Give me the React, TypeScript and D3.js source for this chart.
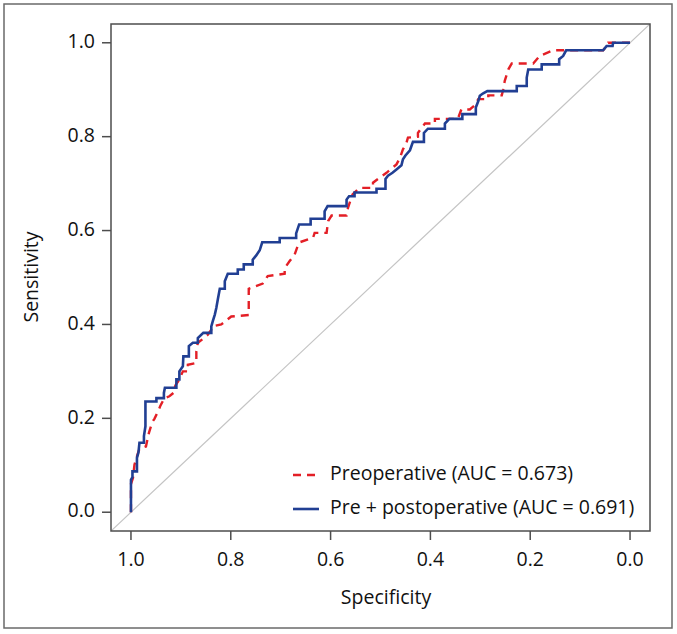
import React from "react";
import * as d3 from "d3";

const xTicks = [1.0, 0.8, 0.6, 0.4, 0.2, 0.0];
const yTicks = [0.0, 0.2, 0.4, 0.6, 0.8, 1.0];
const tickLabels = ["1.0", "0.8", "0.6", "0.4", "0.2", "0.0"];
const yTickLabels = ["0.0", "0.2", "0.4", "0.6", "0.8", "1.0"];

const legendLabels = ["Preoperative (AUC = 0.673)", "Pre + postoperative (AUC = 0.691)"];

// Preoperative curve (specificity, sensitivity)
const preSpec = [1.0, 1.0, 0.996, 0.993, 0.986, 0.983, 0.97, 0.964, 0.96, 0.956, 0.953, 0.944, 0.941, 0.933, 0.923, 0.915, 0.911, 0.903, 0.896, 0.886, 0.886, 0.869, 0.869, 0.866, 0.856, 0.846, 0.839, 0.836, 0.819, 0.799, 0.764, 0.764, 0.736, 0.726, 0.692, 0.692, 0.682, 0.672, 0.665, 0.662, 0.635, 0.632, 0.608, 0.605, 0.598, 0.568, 0.565, 0.556, 0.542, 0.515, 0.515, 0.501, 0.488, 0.468, 0.461, 0.455, 0.448, 0.445, 0.425, 0.425, 0.411, 0.391, 0.391, 0.345, 0.338, 0.321, 0.311, 0.304, 0.284, 0.284, 0.257, 0.254, 0.251, 0.244, 0.237, 0.194, 0.181, 0.154, 0.054, 0.047, 0.044, 0.0];
const preSens = [0.0, 0.06, 0.073, 0.101, 0.126, 0.135, 0.14, 0.169, 0.183, 0.194, 0.199, 0.219, 0.227, 0.243, 0.247, 0.254, 0.27, 0.283, 0.3, 0.3, 0.314, 0.318, 0.343, 0.361, 0.369, 0.378, 0.389, 0.396, 0.4, 0.417, 0.42, 0.476, 0.487, 0.503, 0.508, 0.52, 0.535, 0.549, 0.57, 0.575, 0.585, 0.595, 0.595, 0.62, 0.632, 0.632, 0.649, 0.677, 0.691, 0.691, 0.702, 0.713, 0.723, 0.741, 0.755, 0.773, 0.787, 0.798, 0.8, 0.808, 0.828, 0.828, 0.838, 0.838, 0.858, 0.858, 0.867, 0.88, 0.88, 0.888, 0.888, 0.901, 0.919, 0.943, 0.956, 0.956, 0.972, 0.984, 0.984, 0.993, 1.0, 1.0];

// Pre + postoperative curve (specificity, sensitivity)
const postSpec = [1.0, 1.0, 0.997, 0.997, 0.988, 0.988, 0.985, 0.983, 0.974, 0.974, 0.971, 0.971, 0.949, 0.949, 0.934, 0.934, 0.932, 0.909, 0.909, 0.903, 0.903, 0.896, 0.895, 0.884, 0.884, 0.876, 0.866, 0.866, 0.855, 0.839, 0.839, 0.836, 0.832, 0.829, 0.826, 0.822, 0.812, 0.812, 0.806, 0.786, 0.786, 0.774, 0.774, 0.756, 0.756, 0.749, 0.742, 0.737, 0.702, 0.702, 0.669, 0.669, 0.663, 0.64, 0.64, 0.612, 0.612, 0.606, 0.568, 0.568, 0.563, 0.552, 0.552, 0.508, 0.508, 0.49, 0.49, 0.485, 0.476, 0.468, 0.458, 0.455, 0.45, 0.441, 0.435, 0.413, 0.413, 0.405, 0.371, 0.371, 0.362, 0.336, 0.336, 0.309, 0.309, 0.304, 0.301, 0.295, 0.286, 0.227, 0.227, 0.207, 0.207, 0.204, 0.177, 0.177, 0.142, 0.142, 0.134, 0.128, 0.054, 0.047, 0.035, 0.034, 0.0];
const postSens = [0.0, 0.069, 0.075, 0.087, 0.087, 0.116, 0.127, 0.148, 0.148, 0.162, 0.183, 0.236, 0.236, 0.243, 0.243, 0.254, 0.265, 0.265, 0.283, 0.283, 0.3, 0.311, 0.332, 0.332, 0.354, 0.361, 0.361, 0.371, 0.382, 0.382, 0.396, 0.407, 0.421, 0.435, 0.453, 0.476, 0.476, 0.492, 0.508, 0.508, 0.517, 0.517, 0.528, 0.528, 0.538, 0.547, 0.558, 0.575, 0.575, 0.584, 0.584, 0.594, 0.613, 0.613, 0.625, 0.625, 0.641, 0.652, 0.652, 0.666, 0.673, 0.673, 0.681, 0.681, 0.689, 0.689, 0.71, 0.717, 0.723, 0.73, 0.739, 0.752, 0.76, 0.771, 0.789, 0.789, 0.808, 0.817, 0.817, 0.828, 0.838, 0.838, 0.848, 0.848, 0.862, 0.876, 0.887, 0.892, 0.897, 0.897, 0.908, 0.908, 0.926, 0.943, 0.943, 0.954, 0.954, 0.965, 0.972, 0.984, 0.984, 0.993, 0.993, 1.0, 1.0];

const W = 677;
const H = 634;
const FONT = "'Open Sans', 'Noto Sans', sans-serif";
const FS = 19.5;
const RED = "#e31f26";
const BLUE = "#213f93";
const AXIS = "#4d4d4d";
const TXT = "#111";

export default function App() {
  const x = d3.scaleLinear().domain([1.04, -0.04]).range([111, 650]);
  const y = d3.scaleLinear().domain([-0.04, 1.04]).range([531, 24]);

  const line = d3
    .line<[number, number]>()
    .x((d) => x(d[0]))
    .y((d) => y(d[1]));

  const prePts = preSpec.map((s, i) => [s, preSens[i]] as [number, number]);
  const postPts = postSpec.map((s, i) => [s, postSens[i]] as [number, number]);

  const [x0, x1] = x.range();
  const [y0, y1] = y.range();

  return (
    <svg
      width={W}
      height={H}
      style={{ position: "absolute", left: 0, top: 0, background: "#fff" }}
      fontFamily={FONT}
    >
      <rect x={4} y={4} width={668} height={624} fill="#fff" stroke="#6a6a6a" strokeWidth={1.5} />
      <clipPath id="plotclip">
        <rect x={x0} y={y1} width={x1 - x0} height={y0 - y1} />
      </clipPath>
      <line
        x1={x(1.04)}
        y1={y(-0.04)}
        x2={x(-0.04)}
        y2={y(1.04)}
        stroke="#c4c4c4"
        strokeWidth={1.2}
        clipPath="url(#plotclip)"
      />
      <path d={line(prePts) || ""} fill="none" stroke={RED} strokeWidth={2.4} strokeDasharray="8,6" />
      <path d={line(postPts) || ""} fill="none" stroke={BLUE} strokeWidth={2.6} strokeLinejoin="miter" />
      <rect x={x0} y={y1} width={x1 - x0} height={y0 - y1} fill="none" stroke={AXIS} strokeWidth={1.5} />
      {xTicks.map((t, i) => (
        <g key={"xt" + i}>
          <line x1={x(t)} x2={x(t)} y1={y0} y2={y0 + 9} stroke={AXIS} strokeWidth={1.5} />
          <text x={x(t)} y={y0 + 30} textAnchor="middle" dominantBaseline="middle" fontSize={FS} fill={TXT}>
            {tickLabels[i]}
          </text>
        </g>
      ))}
      {yTicks.map((t, i) => (
        <g key={"yt" + i}>
          <line x1={x0 - 9} x2={x0} y1={y(t)} y2={y(t)} stroke={AXIS} strokeWidth={1.5} />
          <text x={x0 - 16} y={y(t)} textAnchor="end" dominantBaseline="middle" fontSize={FS} fill={TXT}>
            {yTickLabels[i]}
          </text>
        </g>
      ))}
      <text x={386} y={599} textAnchor="middle" dominantBaseline="middle" fontSize={FS} fill={TXT}>
        Specificity
      </text>
      <text
        transform={`translate(33,277) rotate(-90)`}
        textAnchor="middle"
        dominantBaseline="middle"
        fontSize={FS}
        fill={TXT}
      >
        Sensitivity
      </text>
      <line x1={293} x2={319} y1={475} y2={475} stroke={RED} strokeWidth={2.4} strokeDasharray="8,6" />
      <line x1={293} x2={319} y1={509} y2={509} stroke={BLUE} strokeWidth={2.6} />
      <text x={330} y={475} dominantBaseline="middle" fontSize={FS} fill={TXT}>
        {legendLabels[0]}
      </text>
      <text x={330} y={509} dominantBaseline="middle" fontSize={FS} fill={TXT}>
        {legendLabels[1]}
      </text>
    </svg>
  );
}
